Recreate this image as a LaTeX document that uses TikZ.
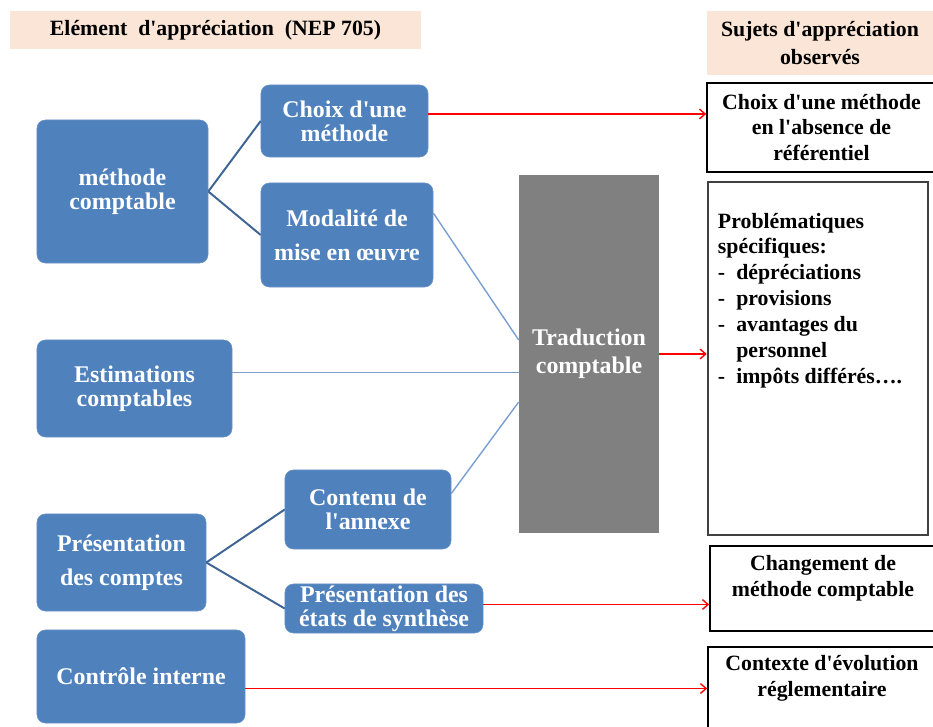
\documentclass[tikz,border=0pt]{standalone}
\usepackage{fontspec}
\setmainfont{Liberation Serif}[Ligatures=TeXOff]
\usetikzlibrary{arrows.meta}

\definecolor{boxblue}{HTML}{4F81BD}
\definecolor{linkdark}{HTML}{3F6594}
\definecolor{linklight}{HTML}{7A9FD0}
\definecolor{peach}{HTML}{FBE5D6}
\definecolor{tradgray}{HTML}{808080}

\tikzset{
  elem/.style={rectangle,rounded corners=6pt,fill=boxblue,draw=boxblue!85!white,
    text=white,align=center,inner sep=0pt,font=\fontsize{17}{17}\selectfont\bfseries},
  trans/.style={rectangle,fill=tradgray,text=white,align=center,inner sep=0pt,
    font=\fontsize{17}{17}\selectfont\bfseries},
  subj/.style={rectangle,draw=black,line width=1.2pt,fill=white,align=center,
    inner sep=0pt,font=\fontsize{15.5}{18.4}\selectfont\bfseries},
  listtxt/.style={align=left,inner sep=0pt,font=\fontsize{15.5}{18.4}\selectfont\bfseries},
  heading/.style={rectangle,fill=peach,align=center,inner sep=0pt,
    font=\fontsize{15.5}{19.8}\selectfont\bfseries},
  link/.style={draw=linkdark,line width=1.4pt},
  flow/.style={draw=linklight,line width=1pt},
  obs/.style={->,draw=red,line width=1pt}
}

\begin{document}
\begin{tikzpicture}[x=0.025cm,y=-0.025cm,>={Straight Barb[length=4pt,width=7pt]}]
    \useasboundingbox (0,0) rectangle (933,727);

    % titres
    \node[heading] (hdrL) [minimum width=10.275cm,minimum height=0.95cm] at (215.5,30)
        {El\'ement\ \ d'appr\'eciation\ \ (NEP 705)};
    \node[heading] (hdrR) [minimum width=5.65cm,minimum height=1.6cm] at (820,43)
        {Sujets d'appr\'eciation\\observ\'es};

    % elements
    \node[elem] (methode) [minimum width=4.275cm,minimum height=3.575cm] at (122.5,191.5) {m\'ethode\\comptable};
    \node[elem] (choix)   [minimum width=4.175cm,minimum height=1.8cm]   at (344.5,121)   {Choix d'une\\m\'ethode};
    \node[elem] (modal)   [minimum width=4.3cm,minimum height=2.6cm]     at (347,235)     {Modalit\'e de\\[7pt]mise en \oe uvre};
    \node[elem] (estim)   [minimum width=4.875cm,minimum height=2.425cm] at (134.5,388.5) {Estimations\\comptables};
    \node[elem] (presC)   [minimum width=4.225cm,minimum height=2.425cm] at (121.5,562.5) {Pr\'esentation\\[7pt]des comptes};
    \node[elem] (contenu) [minimum width=4.15cm,minimum height=1.975cm]  at (368,509.5)   {Contenu de\\l'annexe};
    \node[elem] (presE)   [minimum width=4.95cm,minimum height=1.225cm]  at (384,608.5)   {Pr\'esentation des\\\'etats de synth\`ese};
    \node[elem] (ctrl)    [minimum width=5.2cm,minimum height=2.325cm]   at (141,676.5)   {Contr\^ole interne};
    \node[trans] (trad)   [minimum width=3.5cm,minimum height=8.95cm]    at (589,354)     {Traduction\\[3pt]comptable};

    % sujets observes
    \node[subj] (rC)   [minimum width=5.725cm,minimum height=2.225cm] at (821.5,127.5)
        {Choix d'une m\'ethode\\en l'absence de\\r\'ef\'erentiel};
    \node[subj] (rP)   [minimum width=5.5cm,minimum height=8.825cm,draw=black!75,line width=1.8pt] at (818,358.5) {};
    \node[listtxt,anchor=north west] (rPtxt) at ([xshift=0.275cm,yshift=-0.8cm]rP.north west)
        {Probl\'ematiques\\
         sp\'ecifiques:\\
         \makebox[13pt][l]{-}d\'epr\'eciations\\
         \makebox[13pt][l]{-}provisions\\
         \makebox[13pt][l]{-}avantages du\\
         \hspace*{13pt}personnel\\
         \makebox[13pt][l]{-}imp\^ots diff\'er\'es….};
    \node[subj] (rChg) [minimum width=5.65cm,minimum height=2.125cm] at (823,588.5)
        {Changement de\\m\'ethode comptable\\ };
    \node[subj] (rCtx) [minimum width=5.7cm,minimum height=2.1cm] at (822,689)
        {Contexte d'\'evolution\\r\'eglementaire\\ };

    % branches
    \path[link]
    (methode.east) edge (choix.west)
                   edge (modal.west)
    (presC.east)   edge (contenu.west)
                   edge (presE.west);

    \coordinate (modalout)   at ([yshift=0.55cm]modal.east);
    \coordinate (tradin)     at ([yshift=0.35cm]trad.west);
    \coordinate (estimout)   at ([yshift=0.4cm]estim.east);
    \coordinate (contenuout) at ([yshift=0.4cm]contenu.east);
    \coordinate (tradlow)    at ([yshift=-1.2cm]trad.west);
    \path[flow]
    (modalout)   edge (tradin)
    (estimout)   edge (estimout -| trad.west)
    (contenuout) edge (tradlow);

    \coordinate (choixout) at ([yshift=0.175cm]choix.east);
    \coordinate (presEout) at ([yshift=0.1cm]presE.east);
    \coordinate (ctrlout)  at ([yshift=-0.3cm]ctrl.east);
    \path
    (choixout)   edge[obs] (choixout -| rC.west)
    (trad.east)  edge[obs] (trad.east -| rP.west)
    (presEout)   edge[obs] (presEout -| rChg.west)
    (ctrlout)    edge[obs] (ctrlout -| rCtx.west);
\end{tikzpicture}
\end{document}
